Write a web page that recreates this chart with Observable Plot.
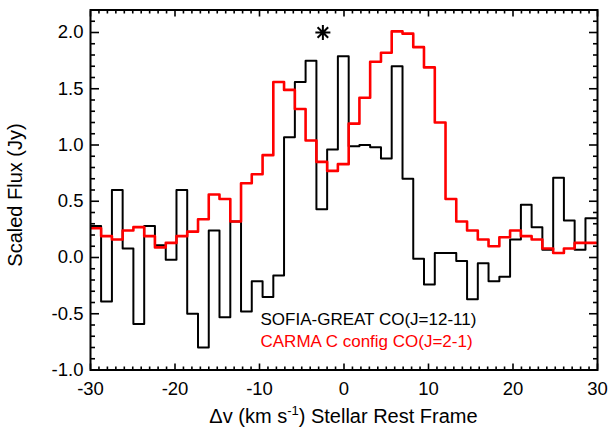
<!DOCTYPE html>
<html>
<head>
<meta charset="utf-8">
<script src="https://cdn.jsdelivr.net/npm/d3@7"></script>
<script src="https://cdn.jsdelivr.net/npm/@observablehq/plot@0.6"></script>
<style>
  html, body { margin: 0; padding: 0; background: #fff; }
  #chart svg { display: block; }
</style>
</head>
<body>
<div id="chart"></div>
<script>
// Channel centre velocities (km/s, stellar rest frame)
const velocity = [
  -29.38, -28.11, -26.83, -25.56, -24.29, -23.01, -21.74, -20.46, -19.19, -17.92,
  -16.64, -15.37, -14.10, -12.82, -11.55, -10.28, -9.00, -7.73, -6.46, -5.18,
  -3.91, -2.63, -1.36, -0.09, 1.19, 2.46, 3.73, 5.01, 6.28, 7.56,
  8.83, 10.10, 11.38, 12.65, 13.92, 15.20, 16.47, 17.74, 19.02, 20.29,
  21.57, 22.84, 24.11, 25.39, 26.66, 27.93, 29.21
];

// SOFIA-GREAT CO(J=12-11), scaled flux (Jy)
const sofiaFlux = [
  0.28, -0.39, 0.60, 0.08, -0.59, 0.28, 0.11, -0.02, 0.60, -0.50,
  -0.80, 0.24, -0.53, 0.32, -0.48, -0.21, -0.35, -0.16, 1.07, 1.56,
  1.75, 0.43, 0.96, 1.79, 0.99, 1.00, 0.98, 0.88, 1.70, 0.70,
  -0.01, -0.24, 0.04, 0.04, -0.03, -0.37, -0.05, -0.21, -0.17, 0.16,
  0.47, 0.27, 0.07, 0.71, 0.33, 0.07, 0.35
];

// CARMA C configuration CO(J=2-1), scaled flux (Jy)
const carmaFlux = [
  0.26, 0.19, 0.16, 0.24, 0.27, 0.19, 0.09, 0.13, 0.19, 0.23,
  0.34, 0.56, 0.52, 0.32, 0.66, 0.74, 0.91, 1.56, 1.49, 1.32,
  1.04, 0.85, 0.77, 0.83, 1.19, 1.42, 1.74, 1.82, 2.01, 1.99,
  1.87, 1.69, 1.20, 0.52, 0.32, 0.24, 0.16, 0.10, 0.18, 0.24,
  0.19, 0.16, 0.08, 0.04, 0.08, 0.13, 0.13
];

// Asterisk marker above the spectra
const starMarker = [{v: -2.5, flux: 2.0}];

const xTickValues = [-30, -20, -10, 0, 10, 20, 30];
const yTickValues = [-1.0, -0.5, 0.0, 0.5, 1.0, 1.5, 2.0];
const xMinorTicks = d3.range(-30, 31, 1).filter(d => d % 10 !== 0);
const yMinorTicks = d3.range(-10, 23).filter(d => d % 5 !== 0).map(d => d / 10);

const seriesNames = ["SOFIA-GREAT CO(J=12-11)", "CARMA C config CO(J=2-1)"];
const seriesColors = ["black", "red"];

// Histogram-style rows: each channel spans its centre +/- half a channel
const halfBin = (velocity[1] - velocity[0]) / 2;
function stepRows(flux) {
  const rows = velocity.map((v, i) => ({v: v - halfBin, flux: flux[i]}));
  rows.push({v: velocity[velocity.length - 1] + halfBin, flux: flux[flux.length - 1]});
  return rows;
}

// Eight-spoke asterisk symbol
const asteriskSymbol = {
  draw(ctx, size) {
    const r = Math.sqrt(size / Math.PI);
    const d = r * Math.SQRT1_2;
    ctx.moveTo(-r, 0); ctx.lineTo(r, 0);
    ctx.moveTo(0, -r); ctx.lineTo(0, r);
    ctx.moveTo(-d, -d); ctx.lineTo(d, d);
    ctx.moveTo(-d, d); ctx.lineTo(d, -d);
  }
};

const tickLine = {stroke: "black", strokeWidth: 1.6, tickFormat: () => "", label: null};
const font = "'Liberation Sans', Arial, Helvetica, sans-serif";

const chart = Plot.plot({
  width: 610,
  height: 430,
  marginLeft: 90,
  marginRight: 13,
  marginTop: 9.5,
  marginBottom: 60.5,
  style: {fontFamily: font, background: "#fff", color: "black"},
  x: {domain: [-30, 30], label: null},
  y: {domain: [-1.0, 2.2], label: null},
  marks: [
    // inward-pointing ticks on all four sides
    Plot.axisX(xTickValues, {anchor: "bottom", tickSize: -6, ...tickLine}),
    Plot.axisX(xTickValues, {anchor: "top", tickSize: -6, ...tickLine}),
    Plot.axisX(xMinorTicks, {anchor: "bottom", tickSize: -3, ...tickLine}),
    Plot.axisX(xMinorTicks, {anchor: "top", tickSize: -3, ...tickLine}),
    Plot.axisY(yTickValues, {anchor: "left", tickSize: -9, ...tickLine}),
    Plot.axisY(yTickValues, {anchor: "right", tickSize: -9, ...tickLine}),
    Plot.axisY(yMinorTicks, {anchor: "left", tickSize: -5, ...tickLine}),
    Plot.axisY(yMinorTicks, {anchor: "right", tickSize: -5, ...tickLine}),
    // tick labels
    Plot.axisX(xTickValues, {anchor: "bottom", tickSize: 0, tickPadding: 12, tickFormat: d => String(d), fontSize: 18.5, fill: "black", label: null}),
    Plot.axisY(yTickValues, {anchor: "left", tickSize: 0, tickPadding: 7, tickFormat: d => d.toFixed(1), fontSize: 18.5, fill: "black", label: null}),
    // spectra
    Plot.line(stepRows(sofiaFlux), {x: "v", y: "flux", curve: "step-after", stroke: seriesColors[0], strokeWidth: 2, clip: true}),
    Plot.line(stepRows(carmaFlux), {x: "v", y: "flux", curve: "step-after", stroke: seriesColors[1], strokeWidth: 2.6, clip: true}),
    Plot.dot(starMarker, {x: "v", y: "flux", symbol: asteriskSymbol, r: 7.5, stroke: "black", strokeWidth: 2}),
    Plot.frame({stroke: "black", strokeWidth: 2}),
    // legend
    ...seriesNames.map((name, i) => Plot.text([name], {
      frameAnchor: "top-left", dx: 170, dy: 309.5 + 22 * i,
      textAnchor: "start", lineAnchor: "middle", fill: seriesColors[i], fontSize: 17
    })),
    // y-axis title
    Plot.text(["Scaled Flux (Jy)"], {
      frameAnchor: "left", dx: -69, dy: 5, rotate: -90,
      textAnchor: "middle", lineAnchor: "bottom", fontSize: 20, fill: "black"
    })
  ]
});

document.getElementById("chart").appendChild(chart);

// x-axis title with superscript exponent
const xTitle = d3.select(chart).append("text")
  .attr("x", (90 + 597) / 2)
  .attr("y", 423)
  .attr("text-anchor", "middle")
  .attr("font-size", 20)
  .attr("fill", "black");
xTitle.append("tspan").text("\u0394v (km s");
xTitle.append("tspan").attr("font-size", 13).attr("dy", -8).text("-1");
xTitle.append("tspan").attr("dy", 8).text(") Stellar Rest Frame");
</script>
</body>
</html>
